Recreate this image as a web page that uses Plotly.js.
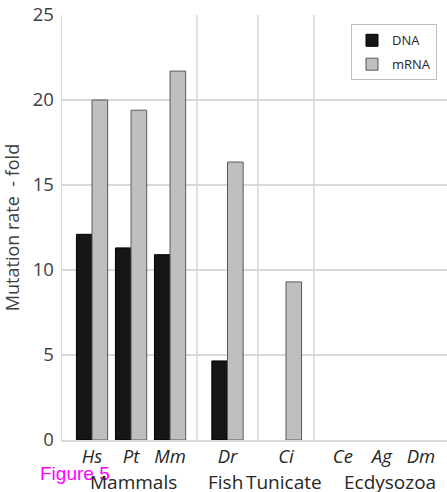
<!DOCTYPE html>
<html>
<head>
<meta charset="utf-8">
<script src="https://cdn.plot.ly/plotly-3.0.1.min.js"></script>
<style>html,body{margin:0;padding:0;background:#fff;}#chart{width:447px;height:492px;}</style>
</head>
<body>
<div id="chart"></div>
<script>
// ---- data ----
const categories = ['Hs', 'Pt', 'Mm', 'Dr', 'Ci', 'Ce', 'Ag', 'Dm'];
const groupOf = ['Mammals', 'Mammals', 'Mammals', 'Fish', 'Tunicate', 'Ecdysozoa', 'Ecdysozoa', 'Ecdysozoa'];
const groupNames = ['Mammals', 'Fish', 'Tunicate', 'Ecdysozoa'];
const dnaValues = [12.1, 11.3, 10.9, 4.65, null, null, null, null];
const mrnaValues = [20.0, 19.4, 21.7, 16.35, 9.3, null, null, null];
const seriesNames = ['DNA', 'mRNA'];
const yTicks = [0, 5, 10, 15, 20, 25];

// ---- layout helpers ----
const FONT = 'Open Sans, Lato, sans-serif';
const axisIds = ['x', 'x2', 'x3', 'x4'];
const domains = [[0, 0.3506], [0.3506, 0.5091], [0.5091, 0.6545], [0.6545, 1]];
const ranges = [[-0.77, 2.69], [-0.78, 0.78], [-0.72, 0.72], [-0.74, 2.67]];
const labelPos = [0.526, 0.46, 0.46, 0.571];
const styles = [
  {color: '#161616', line: {color: '#000000', width: 1}},
  {color: '#bfbfbf', line: {color: '#595959', width: 1}}
];

const traces = [];
groupNames.forEach((g, gi) => {
  const idx = categories.map((c, i) => i).filter(i => groupOf[i] === g);
  const cats = idx.map(i => categories[i]);
  [dnaValues, mrnaValues].forEach((vals, si) => {
    traces.push({
      type: 'bar',
      name: seriesNames[si],
      x: cats,
      y: idx.map(i => vals[i]),
      xaxis: axisIds[gi],
      yaxis: 'y',
      marker: styles[si],
      showlegend: gi === 0,
      legendgroup: seriesNames[si],
      hoverinfo: 'x+y+name'
    });
  });
});

const layout = {
  width: 447, height: 492,
  margin: {l: 62, r: 0, t: 15, b: 52, autoexpand: false},
  paper_bgcolor: '#ffffff', plot_bgcolor: '#ffffff',
  barmode: 'group', bargap: 0.2, bargroupgap: 0,
  font: {family: FONT, color: '#404040'},
  yaxis: {
    range: [0, 25], tickvals: yTicks, ticktext: yTicks.map(String),
    showgrid: true, gridcolor: '#d9d9d9', gridwidth: 1.5,
    showline: true, linecolor: '#d9d9d9', linewidth: 1.5,
    zeroline: false, ticks: '', ticklabelstandoff: 3,
    tickfont: {family: FONT, size: 18.5, color: '#404040'},
    title: {text: 'Mutation rate  - fold', font: {family: FONT, size: 18, color: '#404040'}, standoff: 12}
  },
  legend: {
    x: 0.974, y: 0.978, xanchor: 'right', yanchor: 'top',
    bordercolor: '#bfbfbf', borderwidth: 1, bgcolor: '#ffffff',
    font: {family: FONT, size: 13, color: '#262626'},
    traceorder: 'grouped', tracegroupgap: 4
  },
  shapes: [],
  annotations: [{
    text: 'Figure 5', xref: 'paper', yref: 'paper', x: -0.062, y: -0.078,
    xanchor: 'left', yanchor: 'middle', showarrow: false,
    font: {family: 'Arial, Liberation Sans, sans-serif', size: 19, color: '#ff00ff'}
  }]
};

axisIds.forEach((id, i) => {
  const key = 'xaxis' + (i === 0 ? '' : (i + 1));
  layout[key] = {
    domain: domains[i], anchor: 'y', type: 'category', range: ranges[i],
    showgrid: false, zeroline: false, ticks: '',
    showline: true, linecolor: '#d9d9d9', linewidth: 1.5,
    tickfont: {family: FONT, size: 18.5, color: '#262626', style: 'italic'},
    ticklabelstandoff: -1
  };
  if (i > 0) {
    layout.shapes.push({
      type: 'line', xref: id + ' domain', yref: 'y domain',
      x0: 0, x1: 0, y0: 0, y1: 1,
      line: {color: '#d9d9d9', width: 1.5}
    });
  }
  layout.annotations.push({
    text: groupNames[i], xref: id + ' domain', yref: 'paper',
    x: labelPos[i], y: -0.098, xanchor: 'center', yanchor: 'middle', showarrow: false,
    font: {family: FONT, size: 19, color: '#262626'}
  });
});

Plotly.newPlot('chart', traces, layout, {displayModeBar: false, staticPlot: true});
</script>
</body>
</html>
